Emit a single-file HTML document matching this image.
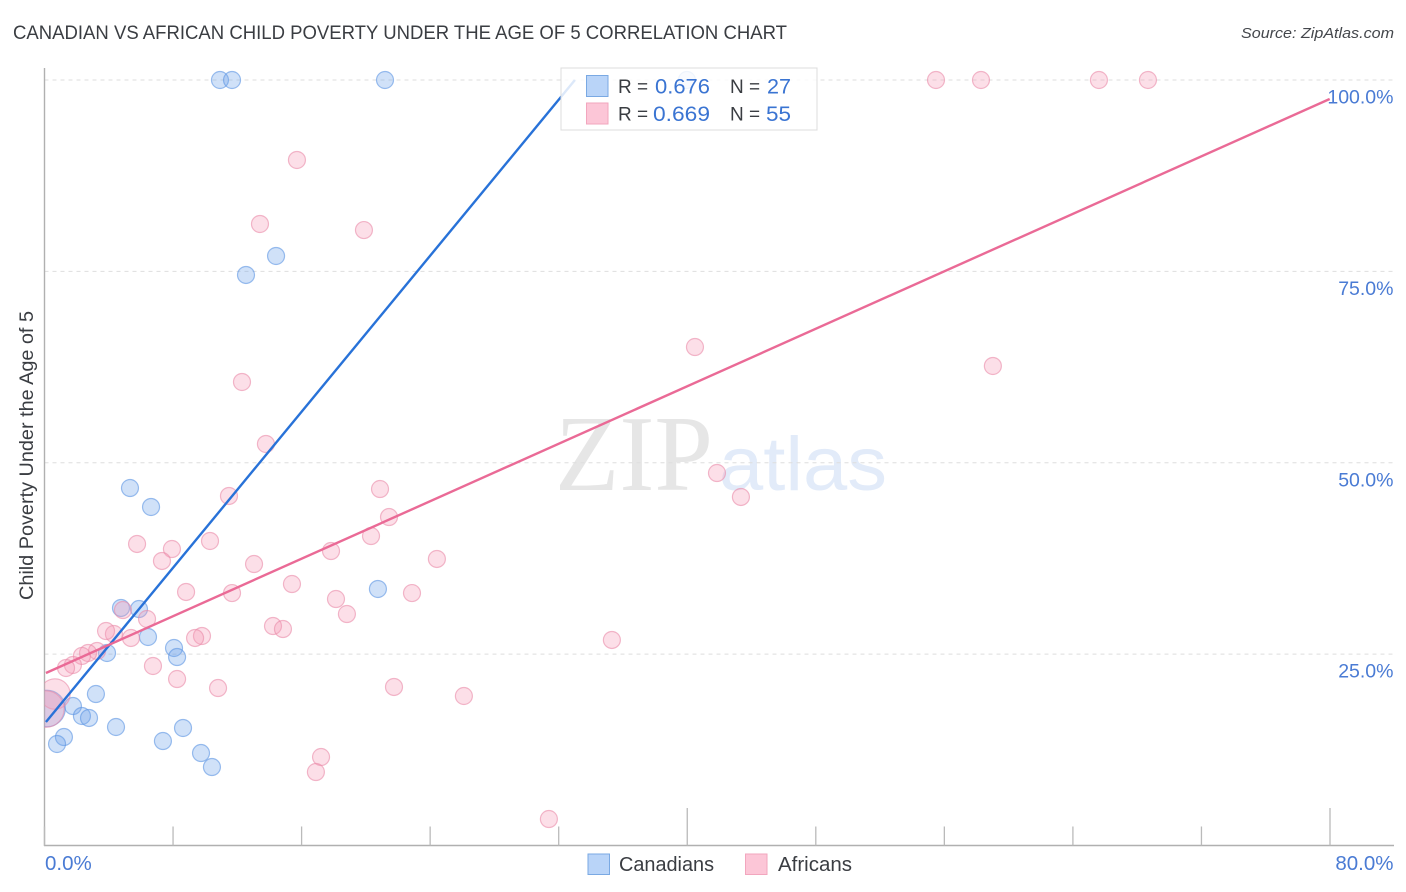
<!DOCTYPE html>
<html lang="en">
<head>
<meta charset="utf-8">
<title>Canadian vs African Child Poverty Under the Age of 5 Correlation Chart</title>
<style>
html,body{margin:0;padding:0;background:#fff;width:1406px;height:892px;overflow:hidden}
svg{display:block;font-family:"Liberation Sans",sans-serif}
</style>
</head>
<body>
<svg id="chart" xmlns="http://www.w3.org/2000/svg" width="1406" height="892" viewBox="0 0 1406 892">
  <defs>
    <clipPath id="plot-clip"><rect x="44.5" y="60" width="1350" height="785"/></clipPath>
  </defs>
  <rect x="0" y="0" width="1406" height="892" fill="#ffffff"/>
  <text x="13" y="39" font-size="19.5" fill="#3a3d42" textLength="774" lengthAdjust="spacingAndGlyphs">CANADIAN VS AFRICAN CHILD POVERTY UNDER THE AGE OF 5 CORRELATION CHART</text>
  <text x="1394" y="38" font-size="15" font-style="italic" fill="#44474c" text-anchor="end" textLength="153" lengthAdjust="spacingAndGlyphs">Source: ZipAtlas.com</text>
  <text transform="translate(33,455.5) rotate(-90)" font-size="19" fill="#3a3d42" text-anchor="middle" textLength="289" lengthAdjust="spacingAndGlyphs">Child Poverty Under the Age of 5</text>
  <g>
    <text x="555" y="490" font-family="'Liberation Serif',serif" font-size="108" fill="#e6e6e6" textLength="158" lengthAdjust="spacingAndGlyphs">ZIP</text>
    <text x="719" y="490" font-size="76" fill="#e2ebf9" textLength="168" lengthAdjust="spacingAndGlyphs">atlas</text>
  </g>
  <g id="grid"></g>
  <g id="axes"></g>
  <g id="marks" clip-path="url(#plot-clip)"></g>
  <g id="trends"></g>
  <g id="tick-labels"></g>

  <g>
    <rect x="561" y="68" width="256" height="62" fill="#ffffff" fill-opacity="0.84" stroke="#dcdcdc" stroke-width="1"/>
    <rect x="586.5" y="75.5" width="21.5" height="21" fill="#b9d4f8" stroke="#7aa9e3"/>
    <text x="618" y="93" font-size="19" fill="#3a3d42">R =</text>
    <text x="655" y="93.5" font-size="21" fill="#3a74d2" textLength="55" lengthAdjust="spacingAndGlyphs">0.676</text>
    <text x="730" y="93" font-size="19" fill="#3a3d42">N =</text>
    <text x="767" y="93.5" font-size="21" fill="#3a74d2" textLength="24" lengthAdjust="spacingAndGlyphs">27</text>
    <rect x="586.5" y="103" width="21.5" height="21" fill="#fcc6d7" stroke="#f2a6be"/>
    <text x="618" y="120.5" font-size="19" fill="#3a3d42">R =</text>
    <text x="653" y="121" font-size="21" fill="#3a74d2" textLength="57" lengthAdjust="spacingAndGlyphs">0.669</text>
    <text x="730" y="120.5" font-size="19" fill="#3a3d42">N =</text>
    <text x="766" y="121" font-size="21" fill="#3a74d2" textLength="25" lengthAdjust="spacingAndGlyphs">55</text>
  </g>

  <g>
    <rect x="588" y="854" width="21.5" height="20.5" fill="#b9d4f8" stroke="#7aa9e3"/>
    <text x="619" y="871" font-size="20" fill="#3a3d42" textLength="95" lengthAdjust="spacingAndGlyphs">Canadians</text>
    <rect x="745.5" y="854" width="21.5" height="20.5" fill="#fcc6d7" stroke="#f2a6be"/>
    <text x="778" y="871" font-size="20" fill="#3a3d42" textLength="74" lengthAdjust="spacingAndGlyphs">Africans</text>
  </g>
</svg>
<script>
var xTickValues = [0, 8, 16, 24, 32, 40, 48, 56, 64, 72, 80];
var xMajorTicks = [40, 80];
var xLabelValues = [0, 80];
var xLabelText = ['0.0%', '80.0%'];
var yTickValues = [25, 50, 75, 100];
var yLabelText = ['25.0%', '50.0%', '75.0%', '100.0%'];

var canadianX = [10.92, 11.67, 21.19, 39.98, 14.41, 12.54, 5.32, 6.63, 20.75, 4.76, 5.88, 6.44, 8.06, 8.25, 3.89, 3.20, 1.77, 2.33, 2.77, 4.45, 8.62, 7.37, 9.74, 10.42, 1.21, 0.78, 0.16];
var canadianY = [100, 100, 100, 100, 77.01, 74.53, 46.70, 44.22, 33.51, 31.03, 30.89, 27.24, 25.80, 24.62, 25.15, 19.79, 18.22, 16.92, 16.66, 15.48, 15.35, 13.65, 12.08, 10.25, 14.17, 13.26, 17.90];
var canadianWeight = [1, 1, 1, 1, 1, 1, 1, 1, 1, 1, 1, 1, 1, 1, 1, 1, 1, 1, 1, 1, 1, 1, 1, 1, 1, 1, 4.6];

var africanX = [55.48, 58.28, 65.62, 68.67, 15.71, 13.41, 19.88, 40.48, 59.02, 12.29, 13.78, 41.85, 43.34, 11.48, 20.88, 21.44, 20.32, 5.76, 7.93, 7.31, 10.30, 17.83, 13.04, 24.42, 15.40, 8.81, 11.67, 22.87, 18.14, 18.82, 4.88, 6.38, 14.22, 14.84, 9.80, 9.37, 5.38, 4.32, 3.83, 35.31, 3.27, 2.71, 2.33, 1.77, 1.34, 6.75, 8.25, 10.80, 21.75, 26.10, 17.21, 16.89, 31.39, 0.65, 0.09];
var africanY = [100, 100, 100, 100, 89.55, 81.19, 80.40, 65.12, 62.64, 60.55, 52.45, 48.66, 45.53, 45.66, 46.57, 42.91, 40.43, 39.39, 38.73, 37.17, 39.78, 38.47, 36.77, 37.43, 34.16, 33.12, 32.98, 32.98, 32.20, 30.24, 30.76, 29.59, 28.67, 28.28, 27.37, 27.11, 27.11, 27.63, 28.02, 26.85, 25.41, 25.15, 24.76, 23.58, 23.19, 23.45, 21.75, 20.57, 20.71, 19.53, 11.56, 9.60, 3.46, 19.79, 17.83];
var africanWeight = [1, 1, 1, 1, 1, 1, 1, 1, 1, 1, 1, 1, 1, 1, 1, 1, 1, 1, 1, 1, 1, 1, 1, 1, 1, 1, 1, 1, 1, 1, 1, 1, 1, 1, 1, 1, 1, 1, 1, 1, 1, 1, 1, 1, 1, 1, 1, 1, 1, 1, 1, 1, 1, 3.2, 4.6];

var canadianTrendX = [0.09, 33.01];
var canadianTrendY = [16.13, 100];
var africanTrendX = [0.09, 79.98];
var africanTrendY = [22.53, 97.52];

var NS = 'http://www.w3.org/2000/svg';
function xScale(v) { return 44.5 + v * (1285.5 / 80); }
function yScale(v) { return 845.5 - v * (765.5 / 100); }
function make(tag, parentId, attrs) {
  var el = document.createElementNS(NS, tag);
  for (var k in attrs) { el.setAttribute(k, attrs[k]); }
  document.getElementById(parentId).appendChild(el);
  return el;
}

yTickValues.forEach(function (v) {
  var grid = make('line', 'grid', { x1: 44.5, x2: 1393, y1: yScale(v), y2: yScale(v), stroke: '#dedede', 'stroke-width': 1, 'stroke-dasharray': '4 4' });
  
  
});

var yAxis = make('line', 'axes', { x1: 44.5, x2: 44.5, y1: 68, y2: 846, stroke: '#b0b0b0', 'stroke-width': 1.4 });


var xAxis = make('line', 'axes', { x1: 44, x2: 1394, y1: 845.5, y2: 845.5, stroke: '#b0b0b0', 'stroke-width': 1.4 });



xTickValues.forEach(function (v) {
  var top = xMajorTicks.indexOf(v) >= 0 ? 808 : 826.5;
  var tick = make('line', 'axes', { x1: xScale(v), x2: xScale(v), y1: top, y2: 845.5, stroke: '#bababa', 'stroke-width': 1.3 });
  
  
});

function drawPoints(xs, ys, weights, fill, stroke, name) {
  xs.forEach(function (x, i) {
    var c = make('circle', 'marks', {
      cx: xScale(x), cy: yScale(ys[i]), r: 8.5 * Math.sqrt(weights[i]),
      fill: fill, 'fill-opacity': 0.32, stroke: stroke, 'stroke-opacity': 0.6, 'stroke-width': 1.2
    });
    
    
  });
}
drawPoints(canadianX, canadianY, canadianWeight, '#6ea3ea', '#5c95e2', 'canadian-point');
drawPoints(africanX, africanY, africanWeight, '#f59ab8', '#ea8aa8', 'african-point');

function drawTrend(xs, ys, color, name) {
  var line = make('line', 'trends', {
    x1: xScale(xs[0]), y1: yScale(ys[0]), x2: xScale(xs[1]), y2: yScale(ys[1]),
    stroke: color, 'stroke-width': 2.4
  });
  
  
}
drawTrend(canadianTrendX, canadianTrendY, '#2872d8', 'canadian-trend-line');
drawTrend(africanTrendX, africanTrendY, '#ea6a96', 'african-trend-line');

yTickValues.forEach(function (v, i) {
  var t = make('text', 'tick-labels', { x: 1393.5, y: yScale(v) + 23.5, 'font-size': 19.5, fill: '#4a7bd4', 'text-anchor': 'end' });
  t.textContent = yLabelText[i];
  
  
});
xLabelValues.forEach(function (v, i) {
  var last = i === xLabelValues.length - 1;
  var t = make('text', 'tick-labels', { x: last ? 1393.5 : xScale(v) + 0.5, y: 870, 'font-size': 20.5, fill: '#4a7bd4', 'text-anchor': last ? 'end' : 'start' });
  t.textContent = xLabelText[i];
  
  
});
</script>
</body>
</html>
